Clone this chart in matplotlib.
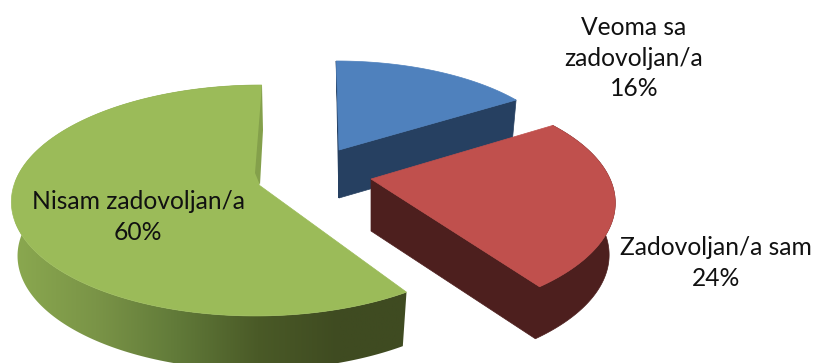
import matplotlib
matplotlib.use("Agg")
import matplotlib.pyplot as plt
import numpy as np
from matplotlib.colors import LinearSegmentedColormap
from matplotlib.patches import Polygon

plt.rcParams['font.family'] = ['Lato', 'DejaVu Sans']

# Data
labels = ["Veoma sa\nzadovoljan/a", "Zadovoljan/a sam", "Nisam zadovoljan/a"]
shares = [16, 24, 60]
top_colors = ["#4f81bd", "#c0504d", "#9bbb59"]
wall_colors = ["#264061", "#4d1f1e", "#3f4b21"]

# apex x, apex y, half width, half depth, perspective, wall height, lean
views = [(339, 150, 224, 98.8, 0.11, 48, -3),
         (371, 179, 239, 111, 0.206, 52, 0),
         (259, 185, 245, 113.4, 0.134, 54, 3)]
label_pos = [(634, 58), (716, 263), (138, 217)]

# Cumulative angles, clockwise from twelve o'clock
edges = np.concatenate([[0], np.cumsum(shares)]) * 3.6


def rim(view, start, end):
    ax_, ay_, a, b, p, _, lean = view
    t = np.radians(np.linspace(start, end, 200))
    w = 1 + p * np.cos(t)
    return np.column_stack([ax_ + (a * np.sin(t) + lean * np.cos(t)) / w,
                            ay_ - b * np.cos(t) / w])


def extrude(view, pts):
    ax_, h = view[0], view[5]
    out = pts.copy()
    out[:, 0] = ax_ + (pts[:, 0] - ax_) * 0.975
    out[:, 1] = pts[:, 1] + h
    return out


fig = plt.figure(figsize=(8.15, 3.63), dpi=100)
ax = fig.add_axes([0, 0, 1, 1])
green_ramp = LinearSegmentedColormap.from_list(
    "green_wall", ["#8aa84f", "#7a9447", "#617a39", "#4a5a27", "#3f4b21", "#3f4b21"])

for i in range(len(shares)):
    view = views[i]
    start, end = edges[i], edges[i + 1]
    # the green cut edge sits a little further round in the picture
    if i == 2:
        start += 3
    apex = np.array([[view[0], view[1]]])
    arc = rim(view, start, end)
    face = np.vstack([apex, arc])

    if i == 0:
        # cut wall along the right edge of the slice
        edge = np.vstack([apex, arc[-1:]])
        wall = np.vstack([edge, extrude(view, edge)[::-1]])
        ax.add_patch(Polygon(wall, fc=wall_colors[i], ec=wall_colors[i], lw=0.5))
        ax.add_patch(Polygon(np.vstack([arc[:1], apex, extrude(view, apex)]),
                             fc=wall_colors[i], ec=wall_colors[i], lw=0.8))
    elif i == 1:
        edge = np.vstack([apex, arc[::-1]])
        wall = np.vstack([edge, extrude(view, edge)[::-1]])
        ax.add_patch(Polygon(wall, fc=wall_colors[i], ec=wall_colors[i], lw=0.5))
    else:
        wall = np.vstack([arc, extrude(view, arc)[::-1]])
        clip = Polygon(wall, fc="none", ec="none")
        ax.add_patch(clip)
        ramp = np.linspace(0, 1, 256).reshape(1, -1)
        im = ax.imshow(ramp, cmap=green_ramp, extent=(15, 420, 370, 80),
                       aspect="auto", zorder=1)
        im.set_clip_path(clip)

    ax.add_patch(Polygon(face, fc=top_colors[i], ec=top_colors[i], lw=0.5, zorder=2))

    if i == 2:
        # thin inner wall showing next to the twelve o'clock cut
        x0, y0 = view[0], view[1]
        ax.add_patch(Polygon([[x0 + 3, y0 - 100], [x0 + 4, y0 - 55], [x0 + 1, y0],
                              [x0 - 4, y0 - 12]],
                             fc="#84a04b", ec="none", zorder=3))

    pct = f"{shares[i]}%"
    ax.text(label_pos[i][0], label_pos[i][1], labels[i] + "\n" + pct, ha="center",
            va="center", fontsize=17.7, linespacing=1.42, color="#111111", zorder=5)

ax.set_xlim(0, 815)
ax.set_ylim(363, 0)
ax.axis("off")
fig.savefig("out.png", dpi=100)
